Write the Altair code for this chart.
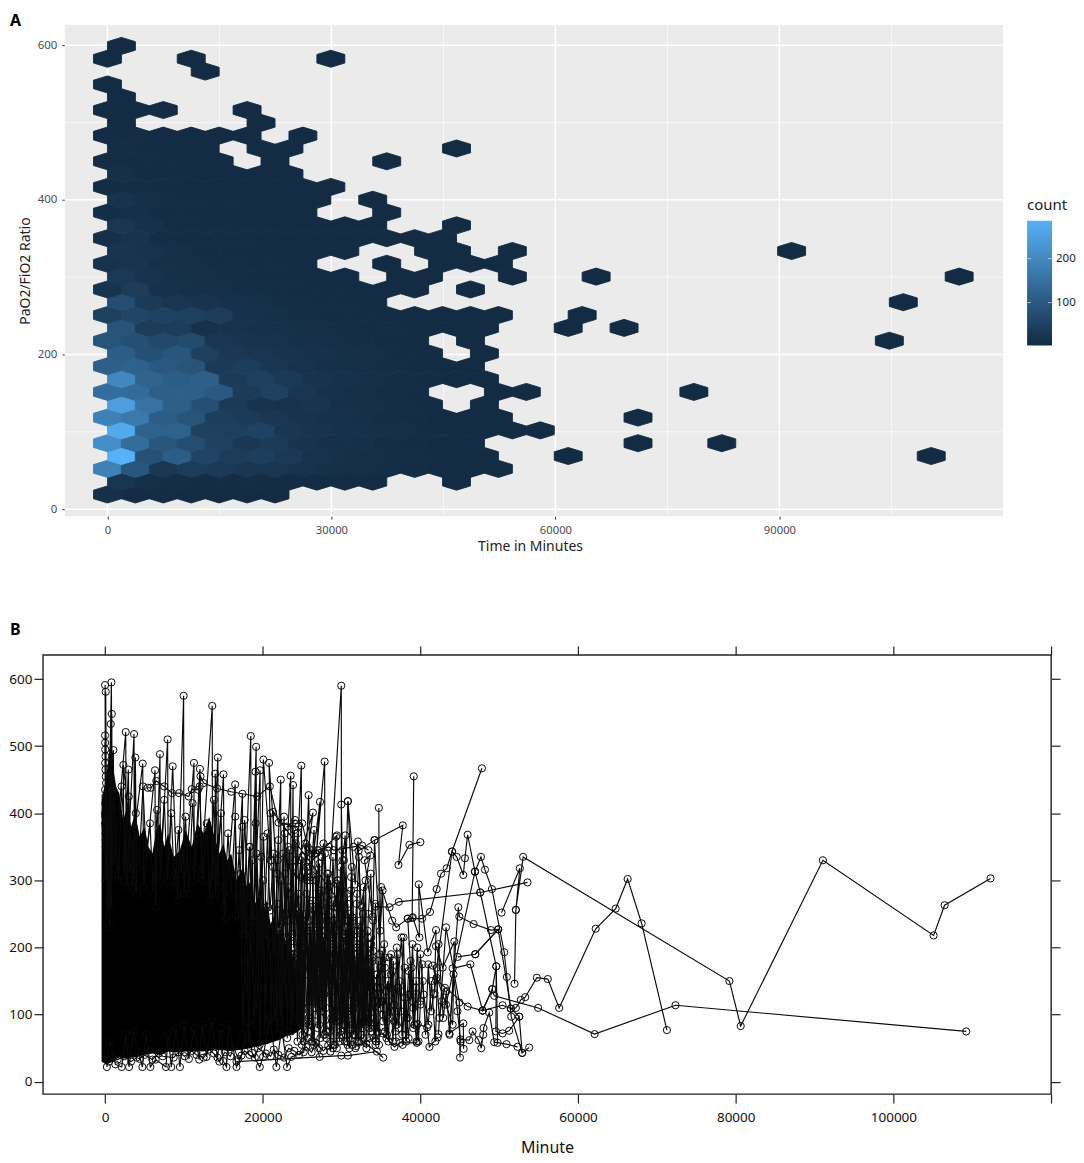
import altair as alt
import pandas as pd

FONT = "Noto Sans"

# panel A: hexagon bins
bin_y = [19.0, 35.6, 52.1, 68.7, 85.3, 101.9, 118.4, 135.0, 151.6, 168.1, 184.7, 201.3,
         217.8, 234.4, 251.0, 267.6, 284.1, 300.7, 317.3, 333.8, 350.4, 367.0, 383.5, 400.1,
         416.7, 433.3, 449.8, 466.4, 483.0, 499.5, 516.1, 532.7, 549.2, 565.8, 582.4, 599.0]
bin_x_even = [0, 3740, 7480, 11220, 14960, 18700, 22440, 26180, 29920, 33660, 37400, 41140,
              44880, 48620, 52360, 56100, 59840, 63580, 67320, 71060, 74800, 78540, 82280,
              86020, 89760, 93500, 97240, 100980, 104720, 108460, 112200]
bin_x_odd = [1870, 5610, 9350, 13090, 16830, 20570, 24310, 28050, 31790, 35530, 39270, 43010,
             46750, 50490, 54230, 57970, 61710, 65450, 69190, 72930, 76670, 80410, 84150,
             87890, 91630, 95370, 99110, 102850, 106590, 110330, 114070]

counts_r00 = [14, 4, 4, 3, 3, 3, 2]
counts_r01 = [26, 10, 8, 7, 6, 5, 4, 3, 2, 1, 0, 0, 1]
counts_r02 = [190, 100, 32, 42, 36, 30, 26, 18, 12, 10, 8, 5, 3, 2, 1]
counts_r03 = [286, 90, 115, 60, 42, 46, 34, 18, 14, 11, 8, 5, 3, 1]
counts_r04 = [215, 150, 100, 80, 55, 32, 40, 22, 14, 12, 8, 5, 3, 1]
counts_r05 = [270, 125, 125, 52, 50, 56, 28, 20, 16, 14, 10, 6, 4, 2, 1, 1]
counts_r06 = [190, 175, 115, 95, 48, 40, 30, 22, 15, 12, 9, 6, 3, 2, 1]
counts_r07 = [250, 160, 120, 85, 36, 20, 18, 24, 14, 11, 8, 4, 0, 1]
counts_r08 = [150, 145, 120, 120, 105, 40, 55, 26, 15, 11, 8, 4, 0, 0, 1, 1]
counts_r09 = [205, 130, 115, 120, 40, 50, 34, 22, 15, 11, 8, 5, 3, 1]
counts_r10 = [120, 125, 105, 95, 36, 45, 30, 18, 13, 10, 8, 5, 3, 1]
counts_r11 = [115, 85, 100, 50, 32, 26, 22, 16, 12, 10, 6, 4, 0, 1]
counts_r12 = [95, 85, 70, 75, 28, 22, 18, 14, 10, 8, 6, 3, 0, 1]
counts_r13 = [95, 42, 45, 16, 18, 15, 12, 10, 8, 6, 5, 3, 2, 1]
counts_r14 = [50, 62, 55, 50, 42, 15, 12, 9, 7, 6, 4, 2, 2, 1, 1]
counts_r15 = [80, 36, 26, 20, 15, 12, 9, 7, 5, 2]
counts_r16 = [22, 42, 16, 12, 10, 8, 6, 5, 4, 2, 1, 1, 0, 1]
counts_r17 = [34, 20, 12, 10, 8, 6, 5, 3, 2, 0, 1, 1, 0, 0, 1]
counts_r18 = [18, 24, 14, 10, 7, 6, 4, 2, 0, 0, 1, 0, 1, 1, 1]
counts_r19 = [24, 18, 10, 7, 6, 5, 4, 3, 1, 0, 0, 1, 1, 0, 1]
counts_r20 = [12, 22, 9, 7, 6, 5, 3, 2, 2, 1, 1, 1, 1]
counts_r21 = [30, 15, 7, 6, 5, 4, 3, 2, 1, 1, 0, 0, 1]
counts_r22 = [9, 12, 7, 5, 3, 3, 2, 1, 0, 0, 1]
counts_r23 = [20, 10, 5, 4, 5, 3, 2, 1, 0, 1]
counts_r24 = [7, 8, 4, 3, 3, 2, 2, 1, 1]
counts_r25 = [12, 6, 4, 3, 2, 2, 1]
counts_r26 = [5, 5, 4, 3, 2, 0, 1]
counts_r27 = [9, 5, 3, 2, 0, 1, 1]
counts_r28 = [4, 5, 2, 2, 1, 1, 0, 1]
counts_r29 = [3, 0, 0, 0, 0, 1]
counts_r30 = [2, 2, 1, 0, 0, 1]
counts_r31 = [2]
counts_r32 = [1]
counts_r33 = [0, 0, 0, 1]
counts_r34 = [1, 0, 0, 1, 0, 0, 0, 0, 1]
counts_r35 = [1]

# lone bins out on the right
far_row = [26, 27, 19, 17, 17, 15, 14, 13, 13, 12, 8, 6, 4, 4, 3, 3]
far_col = [10, 12, 24, 17, 30, 28, 17, 16, 18, 28, 21, 19, 19, 22, 16, 29]

legend_values = [100, 200]
panel_x = [-5710, 119960]
panel_y = [-9, 626]
grid_major_x = [0, 30000, 60000, 90000]
grid_minor_x = [15000, 45000, 75000, 105000]
grid_major_y = [0, 200, 400, 600]
grid_minor_y = [100, 300, 500]

# panel B: the saturated black part, as an outline
core_x = [-450, 100, 600, 1000, 1400, 1800, 2300, 2800, 3300, 3800, 4400, 5000, 5500, 6000, 6500, 7000, 7500, 8000,
          8700, 9500, 10200, 11000, 11700, 12500, 13200, 14000, 14500, 15000, 15500, 16000, 16700, 17500, 18000,
          18500, 19000, 19500, 20000, 20500, 21000, 21500, 22000, 22500, 23000, 23500, 24000, 24500, 25000]
core_top = [420, 450, 500, 470, 440, 430, 390, 410, 380, 400, 365, 380, 350, 340, 375, 385, 350, 370,
            335, 345, 375, 350, 385, 370, 395, 360, 340, 355, 330, 340, 300, 320, 290,
            300, 265, 280, 250, 270, 235, 250, 215, 235, 200, 215, 170, 190, 120]
core_low = [30, 26, 28, 30, 34, 36, 35, 34, 36, 36, 38, 40, 41, 42, 41, 40, 42, 45,
            44, 44, 45, 45, 46, 45, 47, 48, 47, 47, 46, 46, 47, 48, 49,
            50, 52, 52, 55, 56, 58, 60, 62, 65, 68, 70, 72, 75, 80]

# panel B: patients that can still be followed
tail_a_x = [46960, 49870, 51475, 52110, 52740, 53290, 54770, 56160, 57600, 62240, 64770, 66290, 68060, 71270]
tail_a_y = [190, 227, 109, 110, 122, 126, 155, 153, 110, 228, 258, 302, 236, 77]
tail_b_x = [50295, 52615, 52108, 51940, 52108, 53035, 79200, 80630, 91060, 105100, 106500, 112320]
tail_b_y = [252, 318, 256, 146, 256, 335, 150, 83, 330, 218, 263, 303]
tail_c_x = [47890, 49115, 49370, 54940, 62100, 72360, 109240]
tail_c_y = [106, 138, 128, 110, 71, 114, 75]
tail_d_x = [34300, 36075, 37257, 47595, 53585]
tail_d_y = [261, 260, 268, 282, 297]
tail_e_x = [38395, 40210, 41220, 42065, 42615, 43330, 44010, 47800]
tail_e_y = [243, 243, 253, 287, 310, 318, 343, 467]
tail_f_x = [42065, 44010, 44600, 45440, 45650, 45990, 46920, 47595, 49620, 49790]
tail_f_y = [170, 343, 335, 308, 333, 368, 313, 282, 172, 58]
tail_g_x = [43250, 46920, 47680, 48185, 49070, 50630, 50970, 51520, 52910]
tail_g_y = [115, 313, 335, 316, 287, 193, 156, 97, 43]
tail_h_x = [39155, 38950, 39030, 39870, 39788, 40925, 41980, 41770]
tail_h_y = [455, 244, 245, 215, 294, 193, 226, 132]
tail_i_x = [34725, 34800, 35020, 36415, 36920, 38395, 39000]
tail_i_y = [408, 190, 290, 240, 230, 243, 120]
tail_j_x = [32150, 34180, 37765, 37215, 38607, 39999]
tail_j_y = [344, 360, 382, 323, 353, 357]
tail_k_x = [44090, 46330, 47890, 49115, 49620, 49575, 50420, 51260, 52530, 52910, 53795]
tail_k_y = [169, 175, 106, 138, 172, 75, 72, 76, 97, 43, 51]
tail_l_x = [44725, 46960, 49870, 48945, 46750, 44935, 44810, 43670, 45440, 45480]
tail_l_y = [186, 190, 227, 226, 235, 246, 260, 72, 87, 49]
tail_m_x = [16670, 29960, 30800, 34475, 35275, 33120, 31855, 35230, 36710, 37425, 39540, 39660, 40840, 41140, 42195]
tail_m_y = [30, 39, 39, 45, 36, 57, 53, 72, 52, 58, 58, 86, 81, 52, 66]
tail_n_x = [42280, 43250, 44935, 45020, 45060, 46200, 46620, 47380, 47720, 47970, 48015, 48730, 49365, 50925, 52320]
tail_n_y = [71, 230, 118, 36, 63, 62, 75, 62, 50, 70, 80, 103, 59, 56, 52]
tail_o_x = [41980, 42825, 44300, 44090, 41575, 41980, 45990, 47890, 50420, 51475, 52530]
tail_o_y = [202, 170, 209, 85, 173, 152, 112, 106, 114, 109, 97]
tail_p_x = [30800, 31730, 32070, 32490, 33630, 32910, 33965, 34180, 35020]
tail_p_y = [418, 294, 358, 263, 337, 330, 246, 360, 160]

# spikes up out of the black part
peak_x = [0, 60, 80, 250, 800, 900, 850, 780, 720, 600, 0, 120, 1050, 1150, 2620, 2680, 3670, 3700, 3840, 4000,
          2320, 2400, 2950, 3100, 4770, 4900, 6330, 6400, 6960, 7000, 7930, 8000, 8570, 9200, 9960, 10000, 11270, 11300,
          12030, 12200, 13590, 13620, 14300, 14400, 13970, 14000, 15020, 15100, 16500, 16550, 17420, 17500, 18480, 18520,
          19160, 19250, 19080, 18900, 19660, 19700, 20080, 21000, 20800, 21800, 22280, 22300, 23540, 23600, 23840, 23900,
          24890, 24950, 25820, 26000, 27260, 26800, 27850, 27900, 29960, 30000, 29960, 30300, 30800, 31500,
          21310, 22000, 26370, 25500, 29410, 29500, 30460, 30800]
peak_y = [591, 300, 581, 240, 595, 310, 548, 260, 533, 230, 516, 350, 494, 320, 521, 290, 518, 300, 483, 280,
          472, 300, 465, 310, 474, 290, 464, 260, 488, 300, 510, 310, 470, 270, 575, 280, 475, 300,
          466, 310, 560, 300, 483, 290, 459, 280, 458, 240, 443, 250, 429, 220, 515, 240,
          499, 210, 462, 250, 464, 230, 480, 330, 475, 310, 450, 160, 456, 180, 442, 200,
          471, 170, 427, 300, 417, 340, 477, 190, 590, 150, 413, 220, 418, 240,
          402, 230, 401, 320, 367, 260, 367, 220]

flat_x = [5400, 5800, 6500, 7500, 8500, 9400, 10600, 11000, 11800, 12100, 12500, 14200, 16000, 19300, 20900, 22000, 24500,
          23100, 24100, 25000, 25700, 26200, 26900, 28400, 29000, 31500, 32600, 33400]
flat_y = [438, 438, 448, 440, 430, 430, 425, 436, 435, 455, 445, 437, 432, 425, 440, 386, 380,
          380, 390, 385, 350, 340, 345, 350, 345, 350, 352, 345]

column_x = [0, 60, 20, 110, 40, 90, 10, 130, 50, 0, 80, 30, 120, 60, 0, 100, 40, 140, 20, 70, 0, 90]
column_y = [505, 380, 495, 400, 485, 375, 475, 410, 465, 385, 455, 395, 445, 370, 435, 420, 425, 390, 415, 360, 400, 350]

fuzz_x = [1200, 1700, 2100, 2600, 3000, 3500, 3900, 4300, 4800, 5200, 5700, 6100, 6600, 7000, 7500, 7900, 8400, 8800,
          9300, 9700, 10200, 10600, 11100, 11500, 12000, 12400, 12900, 13300, 13800, 14200, 14700, 15100, 15600, 16000,
          16500, 16900, 17400, 17800, 18300, 18700, 19200, 19600, 20100, 20500, 21000, 21400, 21900, 22300, 22800, 23200]
fuzz_y = [410, 300, 440, 330, 425, 290, 400, 320, 440, 340, 385, 280, 405, 320, 420, 300, 400, 290, 375, 310, 395, 280,
          415, 320, 440, 300, 385, 270, 420, 310, 400, 260, 370, 280, 395, 240, 380, 220, 350, 230, 340, 200, 365, 210,
          400, 190, 330, 180, 370, 170]

dense_a_x = [17200, 17500, 17950, 18200, 18650, 18900, 19350, 19600, 20050, 20300, 20700, 21050, 21400, 21750, 22100,
             22400, 22850, 23100, 23500, 23850, 24200, 24500, 24950, 25200, 25600, 25950, 26300, 26600, 27050, 27300,
             27700, 28000, 28450, 28700, 29100, 29400, 29850, 30100, 30500, 30850, 31200, 31500, 31950, 32200, 32600,
             32900, 33350, 33600, 34000, 34300]
dense_a_y = [310, 70, 280, 60, 330, 85, 245, 55, 300, 75, 260, 95, 340, 70, 225, 80, 310, 65, 280, 90, 355, 100, 240,
             60, 305, 85, 270, 110, 345, 65, 215, 75, 290, 95, 250, 50, 320, 85, 230, 105, 285, 70, 200, 60, 260, 90,
             215, 80, 240, 55]
dense_b_x = [21500, 21850, 22200, 22500, 22900, 23250, 23600, 23950, 24300, 24600, 25050, 25350, 25700, 26050, 26400,
             26750, 27150, 27450, 27800, 28150, 28550, 28850, 29200, 29550, 29950, 30250, 30650, 31000, 31300, 31650,
             32050, 32350, 32700, 33050, 33450, 33750, 34100, 34450, 34800, 35150, 35500, 35850, 36200, 36550, 36900]
dense_b_y = [130, 265, 95, 205, 120, 290, 75, 190, 140, 250, 110, 200, 65, 230, 150, 300, 85, 175, 130, 275, 60, 210,
             115, 300, 70, 180, 140, 250, 55, 190, 120, 240, 80, 170, 135, 215, 65, 160, 110, 195, 75, 150, 95, 180, 60]
dense_c_x = [24050, 24400, 24750, 25100, 25500, 25800, 26150, 26500, 26850, 27200, 27550, 27900, 28300, 28600, 28950,
             29300, 29700, 30000, 30400, 30750, 31100, 31400, 31800, 32100, 32500, 32800, 33200, 33500, 33900, 34200,
             34550, 34900, 35250, 35600, 35950, 36300, 36650, 37000, 37350, 37700, 38050, 38400, 38750, 39100, 39450]
dense_c_y = [215, 60, 170, 100, 250, 85, 195, 55, 160, 120, 235, 70, 190, 45, 150, 225, 100, 165, 60, 210, 130, 80,
             175, 110, 220, 65, 145, 90, 185, 120, 75, 170, 100, 135, 60, 190, 115, 85, 150, 70, 125, 95, 180, 80, 140]
dense_d_x = [30200, 30550, 30900, 31250, 31600, 31950, 32300, 32650, 33000, 33300, 33650, 34000, 34350, 34700, 35050,
             35400, 35750, 36100, 36450, 36800, 37150, 37500, 37850, 38200, 38550, 38900, 39250, 39600, 39950, 40300,
             40650, 41000, 41350, 41700, 42050, 42400, 42750, 43100]
dense_d_y = [180, 70, 240, 110, 155, 60, 205, 130, 85, 225, 95, 150, 60, 180, 120, 205, 90, 140, 165, 75, 190, 105,
             215, 60, 130, 170, 85, 200, 120, 150, 70, 175, 105, 130, 155, 95, 120, 140]
dense_e_x = [17600, 18000, 18400, 18800, 19200, 19550, 19950, 20350, 20750, 21150, 21550, 21950, 22350, 22750, 23150,
             23550, 23950, 24350, 24750, 25150, 25550, 25950, 26350, 26750, 27150, 27550, 27950, 28350, 28750, 29150]
dense_e_y = [180, 130, 220, 150, 105, 190, 260, 120, 215, 165, 90, 195, 300, 140, 240, 110, 185, 255, 130, 170, 225,
             120, 200, 150, 280, 105, 205, 160, 240, 135]
dense_f_x = [24150, 24300, 24550, 24700, 24850, 25050, 25250, 25450, 25650, 25800, 26000, 26200, 26400, 26550, 26750,
             26950, 27100, 27300, 27500, 27650, 27850, 28050, 28200, 28400, 28600, 28800, 28950, 29150, 29350, 29500,
             29700, 29900, 30100, 30250, 30450, 30650, 30800, 31000, 31200, 31400, 31550, 31750, 31950, 32100, 32300,
             32500, 32700, 32850, 33050, 33250]
dense_f_y = [330, 90, 280, 130, 305, 70, 240, 160, 320, 95, 265, 60, 300, 120, 225, 80, 285, 140, 335, 105, 255, 65,
             310, 150, 215, 90, 270, 55, 295, 130, 235, 75, 330, 115, 200, 60, 265, 145, 305, 85, 225, 50, 280, 125,
             195, 70, 250, 110, 300, 90]
dense_g_x = [24500, 24700, 24950, 25150, 25350, 25550, 25750, 25950, 26150, 26350, 26550, 26750, 26950, 27150, 27350,
             27550, 27750, 27950, 28150, 28350, 28550, 28750, 28950, 29150, 29350, 29550, 29750, 29950, 30150, 30350,
             30550, 30750, 30950, 31150, 31350, 31550, 31750, 31950, 32150, 32350, 32550, 32750, 32950, 33150, 33350,
             33550, 33750, 33950, 34150, 34350]
dense_g_y = [160, 250, 55, 195, 110, 280, 75, 225, 135, 60, 255, 100, 190, 50, 240, 125, 70, 210, 150, 285, 85, 175,
             55, 230, 105, 195, 65, 260, 140, 85, 215, 55, 170, 100, 245, 70, 150, 205, 60, 120, 230, 90, 165, 50, 205,
             110, 75, 180, 130, 60]
dense_h_x = [28000, 28250, 28500, 28750, 29000, 29250, 29500, 29750, 30000, 30250, 30500, 30750, 31000, 31250, 31500,
             31750, 32000, 32250, 32500, 32750, 33000, 33250, 33500, 33750, 34000, 34250, 34500, 34750, 35000, 35250,
             35500, 35750, 36000, 36250, 36500, 36750, 37000, 37250, 37500, 37750, 38000, 38250, 38500, 38750, 39000,
             39250, 39500, 39750, 40000, 40250]
dense_h_y = [110, 190, 75, 150, 240, 90, 175, 60, 130, 215, 85, 160, 50, 195, 110, 70, 225, 125, 60, 180, 95, 150, 65,
             205, 115, 80, 160, 55, 140, 90, 185, 70, 120, 160, 60, 105, 200, 80, 135, 55, 170, 95, 65, 130, 205, 85,
             150, 60, 115, 175]
dense_i_x = [22600, 22900, 23200, 23500, 23800, 24100, 24400, 24700, 25000, 25300, 25600, 25900, 26200, 26500, 26800,
             27100, 27400, 27700, 28000, 28300, 28600, 28900, 29200, 29500, 29800, 30100, 30400, 30700, 31000, 31300,
             31600, 31900, 32200, 32500, 32800, 33100, 33400, 33700, 34000, 34300, 34600, 34900, 35200, 35500]
dense_i_y = [340, 215, 350, 190, 320, 240, 370, 205, 335, 180, 300, 250, 345, 195, 315, 170, 285, 355, 225, 310, 190,
             335, 260, 300, 175, 345, 230, 280, 160, 320, 210, 265, 335, 180, 290, 150, 250, 310, 195, 265, 140, 225,
             285, 170]
dense_j_x = [35200, 35700, 36100, 36700, 37100, 37600, 38100, 38500, 39100, 39500, 40000, 40400, 41000, 41400, 41900,
             42300, 42900, 43300, 43700, 44200, 44700, 45100]
dense_j_y = [120, 65, 185, 90, 140, 215, 70, 165, 110, 60, 190, 130, 85, 150, 60, 205, 95, 135, 70, 160, 105, 60]
dense_k_x = [17000, 17300, 17700, 18100, 18400, 18800, 19100, 19500, 19800, 20200, 20600, 20900, 21300, 21600, 22000,
             22300, 22700, 23000, 23400, 23700, 24000, 24400, 24800, 25100, 25400, 25800, 26100, 26500, 26800, 27200,
             27500, 27900, 28200, 28600, 28900, 29300, 29600, 30000, 30300, 30700]
dense_k_y = [345, 250, 390, 275, 350, 240, 385, 260, 335, 225, 370, 255, 320, 215, 360, 235, 395, 250, 345, 220, 375,
             260, 330, 210, 355, 240, 305, 375, 230, 325, 195, 340, 260, 300, 205, 365, 235, 285, 330, 190]
low_x = [220, 600, 1300, 2110, 2600, 3040, 3600, 4730, 5200, 5740, 6410, 7720, 8000, 8400, 9000, 9490, 10000, 10630, 11300,
         11940, 12300, 12870, 13500, 14260, 14700, 14980, 15400, 15700, 16670, 17300, 18100, 18650, 19620, 20040, 20900,
         21730, 22400, 23080, 23630, 25190, 25800, 27220]
low_y = [22, 60, 26, 22, 70, 22, 75, 22, 70, 22, 33, 22, 70, 22, 80, 22, 85, 34, 80,
         33, 85, 37, 90, 36, 80, 31, 22, 85, 22, 39, 90, 43, 22, 37, 95,
         22, 80, 22, 37, 44, 90, 37]
low_b_x = [500, 1000, 1600, 2400, 3300, 4000, 4400, 5000, 6000, 6800, 7300, 8700, 9300, 10100, 11000, 11600, 12500, 13200,
           13800, 14500, 15200, 15900, 16300, 16900, 17700, 18300, 19000, 19400, 20400, 21000, 21400, 22000, 22700,
           23300, 24000, 24600, 25500, 26200, 26700, 27700, 28300, 28900]
low_b_y = [30, 36, 33, 38, 30, 36, 34, 40, 33, 42, 38, 36, 44, 38, 46, 40, 36, 48, 42, 30, 44, 38, 52, 34, 46, 40, 36,
           50, 42, 38, 48, 40, 36, 50, 46, 40, 52, 44, 58, 46, 54, 50]

b_ticks_x = [0, 20000, 40000, 60000, 80000, 100000, 120000]
b_ticks_y = [0, 100, 200, 300, 400, 500, 600]

# build the tables
rows = [counts_r00, counts_r01, counts_r02, counts_r03, counts_r04, counts_r05, counts_r06, counts_r07, counts_r08,
        counts_r09, counts_r10, counts_r11, counts_r12, counts_r13, counts_r14, counts_r15, counts_r16, counts_r17,
        counts_r18, counts_r19, counts_r20, counts_r21, counts_r22, counts_r23, counts_r24, counts_r25, counts_r26,
        counts_r27, counts_r28, counts_r29, counts_r30, counts_r31, counts_r32, counts_r33, counts_r34, counts_r35]
hex_rec = []
for r, row in enumerate(rows):
    xs = bin_x_even if r % 2 == 0 else bin_x_odd
    for k, c in enumerate(row):
        if c > 0:
            hex_rec.append({"x": xs[k], "y": bin_y[r], "count": c})
for r, k in zip(far_row, far_col):
    xs = bin_x_even if r % 2 == 0 else bin_x_odd
    hex_rec.append({"x": xs[k], "y": bin_y[r], "count": 1})
hexes = pd.DataFrame(hex_rec)

paths = {"peak": (peak_x, peak_y), "flat": (flat_x, flat_y), "column": (column_x, column_y), "fuzz": (fuzz_x, fuzz_y),
         "low": (low_x, low_y), "lowb": (low_b_x, low_b_y), "da": (dense_a_x, dense_a_y), "db": (dense_b_x, dense_b_y),
         "dc": (dense_c_x, dense_c_y), "dd": (dense_d_x, dense_d_y), "de": (dense_e_x, dense_e_y),
         "df": (dense_f_x, dense_f_y), "dg": (dense_g_x, dense_g_y), "dh": (dense_h_x, dense_h_y),
         "di": (dense_i_x, dense_i_y), "dj": (dense_j_x, dense_j_y), "dk": (dense_k_x, dense_k_y),
         "a": (tail_a_x, tail_a_y), "b": (tail_b_x, tail_b_y), "c": (tail_c_x, tail_c_y), "d": (tail_d_x, tail_d_y),
         "e": (tail_e_x, tail_e_y), "f": (tail_f_x, tail_f_y), "g": (tail_g_x, tail_g_y), "h": (tail_h_x, tail_h_y),
         "i": (tail_i_x, tail_i_y), "j": (tail_j_x, tail_j_y), "k": (tail_k_x, tail_k_y), "l": (tail_l_x, tail_l_y),
         "m": (tail_m_x, tail_m_y), "n": (tail_n_x, tail_n_y), "o": (tail_o_x, tail_o_y), "p": (tail_p_x, tail_p_y)}
line_rec = []
for name, (xs, ys) in paths.items():
    for i, (px, py) in enumerate(zip(xs, ys)):
        line_rec.append({"path": name, "seq": i, "minute": px, "ratio": py})
lines = pd.DataFrame(line_rec)
core = pd.DataFrame({"minute": core_x, "top": core_top, "low": core_low})

# panel A, its view starts 22px left of the grey box so that it lines up with panel B
xa = alt.Scale(domain=[-8642, 119960], nice=False, zero=False)
ya = alt.Scale(domain=panel_y, nice=False, zero=False)

backdrop = alt.Chart(pd.DataFrame({"x": [panel_x[0]], "x2": [panel_x[1]], "y": [panel_y[0]], "y2": [panel_y[1]]})).mark_rect(
    color="#EBEBEB").encode(
    x=alt.X("x:Q", scale=xa, axis=None), x2="x2:Q",
    y=alt.Y("y:Q", scale=ya, axis=None), y2="y2:Q",
)


def grid(values, channel, width):
    rule = alt.Chart(pd.DataFrame({"v": values, "a": panel_x[0], "b": panel_x[1]})).mark_rule(
        color="white", strokeWidth=width)
    if channel == "x":
        return rule.encode(x=alt.X("v:Q", scale=xa, axis=None))
    return rule.encode(x=alt.X("a:Q", scale=xa, axis=None), x2="b:Q", y=alt.Y("v:Q", scale=ya, axis=None))


hex_path = "M 1 -0.305 L 1 0.305 L 0 0.61 L -1 0.305 L -1 -0.305 L 0 -0.61 Z"
count_scale = alt.Scale(domain=[1, 286], range=["#132B43", "#56B1F7"], interpolate="lab")

hex_layer = alt.Chart(hexes).mark_point(shape=hex_path, filled=True, size=784, opacity=1, strokeWidth=0.9).encode(
    x=alt.X("x:Q", scale=xa, title="Time in Minutes",
            axis=alt.Axis(values=grid_major_x, format="d", grid=False, domain=False, tickSize=3, tickColor="#333333",
                          labelColor="#4D4D4D", labelFont=FONT, labelFontSize=11.3, titleFont=FONT, titleFontSize=14,
                          titleFontWeight="normal", titleColor="#222222", titlePadding=4, labelPadding=5, titleX=488)),
    y=alt.Y("y:Q", scale=ya, title="PaO2/FiO2 Ratio",
            axis=alt.Axis(values=grid_major_y, offset=-22, grid=False, domain=False, tickSize=3, tickColor="#333333",
                          labelColor="#4D4D4D", labelFont=FONT, labelFontSize=11.5, titleFont=FONT, titleFontSize=14,
                          titleFontWeight="normal", titleColor="#222222", titlePadding=5, labelPadding=5)),
    fill=alt.Fill("count:Q", scale=count_scale, legend=None),
    stroke=alt.Stroke("count:Q", scale=count_scale, legend=None),
)

# the colour key, drawn by hand since a custom hexagon symbol makes the legend fall back to dots
one_row = pd.DataFrame({"t": ["count"]})
key_bar = alt.Chart(one_row).mark_rect(
    color=alt.LinearGradient(gradient="linear", x1=0, x2=0, y1=1, y2=0,
                             stops=[alt.GradientStop(offset=0, color="#132B43"),
                                    alt.GradientStop(offset=1, color="#56B1F7")])).encode(
    x=alt.value(986), x2=alt.value(1011), y=alt.value(196), y2=alt.value(321))
key_title = alt.Chart(one_row).mark_text(
    font=FONT, fontSize=15, align="left", baseline="middle", color="#222222").encode(
    x=alt.value(986), y=alt.value(180), text="t:N")
key_rule = alt.Chart(one_row).mark_rule(color="white", opacity=0.55, strokeWidth=1)
key_ticks = alt.layer(
    key_rule.encode(x=alt.value(986), x2=alt.value(990), y=alt.value(234)),
    key_rule.encode(x=alt.value(1007), x2=alt.value(1011), y=alt.value(234)),
    key_rule.encode(x=alt.value(986), x2=alt.value(990), y=alt.value(278)),
    key_rule.encode(x=alt.value(1007), x2=alt.value(1011), y=alt.value(278)),
)
key_label = alt.Chart(pd.DataFrame({"t": [str(v) for v in legend_values]})).mark_text(
    font=FONT, fontSize=11.5, align="left", baseline="middle", color="#222222")
key_labels = alt.layer(
    key_label.transform_filter("datum.t == '100'").encode(x=alt.value(1015), y=alt.value(278), text="t:N"),
    key_label.transform_filter("datum.t == '200'").encode(x=alt.value(1015), y=alt.value(234), text="t:N"),
)

letter_a = alt.Chart(pd.DataFrame({"t": ["A"]})).mark_text(
    font=FONT, fontSize=16, fontWeight="bold", align="left", baseline="top", color="black").encode(
    x=alt.value(-33), y=alt.value(-12), text="t:N")

panel_a = alt.layer(
    backdrop,
    grid(grid_minor_x, "x", 0.7), grid(grid_minor_y, "y", 0.7),
    grid(grid_major_x, "x", 1.5), grid(grid_major_y, "y", 1.5),
    hex_layer, key_bar, key_ticks, key_title, key_labels, letter_a,
).resolve_axis(x="independent", y="independent").properties(
    width=962, height=492, view=alt.ViewBackground(fill="white", stroke=None))

# panel B
xb = alt.Scale(domain=[-7886, 120000], nice=False, zero=False)
yb = alt.Scale(domain=[-18.3, 636], nice=False, zero=False)
ink = "#0A0A0A"

core_layer = alt.Chart(core).mark_area(color="black", opacity=1).encode(
    x=alt.X("minute:Q", scale=xb, axis=None),
    y=alt.Y("top:Q", scale=yb, axis=None),
    y2="low:Q",
)
line_layer = alt.Chart(lines).mark_line(color=ink, strokeWidth=1.15).encode(
    x=alt.X("minute:Q", scale=xb, axis=None),
    y=alt.Y("ratio:Q", scale=yb, axis=None),
    detail="path:N",
    order="seq:Q",
)
point_layer = alt.Chart(lines).mark_point(color=ink, size=52, strokeWidth=1, filled=False, opacity=1).encode(
    x=alt.X("minute:Q", scale=xb, axis=None),
    y=alt.Y("ratio:Q", scale=yb, axis=None),
)

axis_style = dict(grid=False, domain=False, tickColor="#222222", tickWidth=1.2, tickSize=9,
                  labelColor="#111111", labelFont=FONT, labelFontSize=13.5)
frame = pd.DataFrame({"minute": [0], "ratio": [0]})
axes_main = alt.Chart(frame).mark_point(opacity=0).encode(
    x=alt.X("minute:Q", scale=xb, title="Minute",
            axis=alt.Axis(orient="bottom", values=b_ticks_x, labelOverlap=False, labelFlush=False,
                          labelExpr="datum.value == 120000 ? '' : format(datum.value, 'd')", labelPadding=8,
                          titleFont=FONT, titleFontSize=16, titleFontWeight="normal", titleColor="#111111",
                          titlePadding=15, **axis_style)),
    y=alt.Y("ratio:Q", scale=yb, title=None,
            axis=alt.Axis(orient="left", values=b_ticks_y, labelPadding=2, **axis_style)),
)
axes_other = alt.Chart(frame).mark_point(opacity=0).encode(
    x=alt.X("minute:Q", scale=xb, title=None,
            axis=alt.Axis(orient="top", values=b_ticks_x, labels=False, grid=False, domain=False,
                          tickColor="#222222", tickWidth=1.2, tickSize=9)),
    y=alt.Y("ratio:Q", scale=yb, title=None,
            axis=alt.Axis(orient="right", values=b_ticks_y, labels=False, grid=False, domain=False,
                          tickColor="#222222", tickWidth=1.2, tickSize=9)),
)
letter_b = alt.Chart(pd.DataFrame({"t": ["B"]})).mark_text(
    font=FONT, fontSize=16, fontWeight="bold", align="left", baseline="top", color="black").encode(
    x=alt.value(-33), y=alt.value(-33), text="t:N")

panel_b = alt.layer(
    core_layer, line_layer, point_layer, axes_main, axes_other, letter_b,
).resolve_axis(x="independent", y="independent").properties(
    width=1010, height=440, view=alt.ViewBackground(fill="white", stroke="#222222", strokeWidth=1.4))

chart = alt.vconcat(panel_a, panel_b, spacing=67).properties(
    padding={"left": 0, "right": 0, "top": 4, "bottom": 0}, background="white")

chart.save("out.html", embed_options={"renderer": "svg", "actions": False})
